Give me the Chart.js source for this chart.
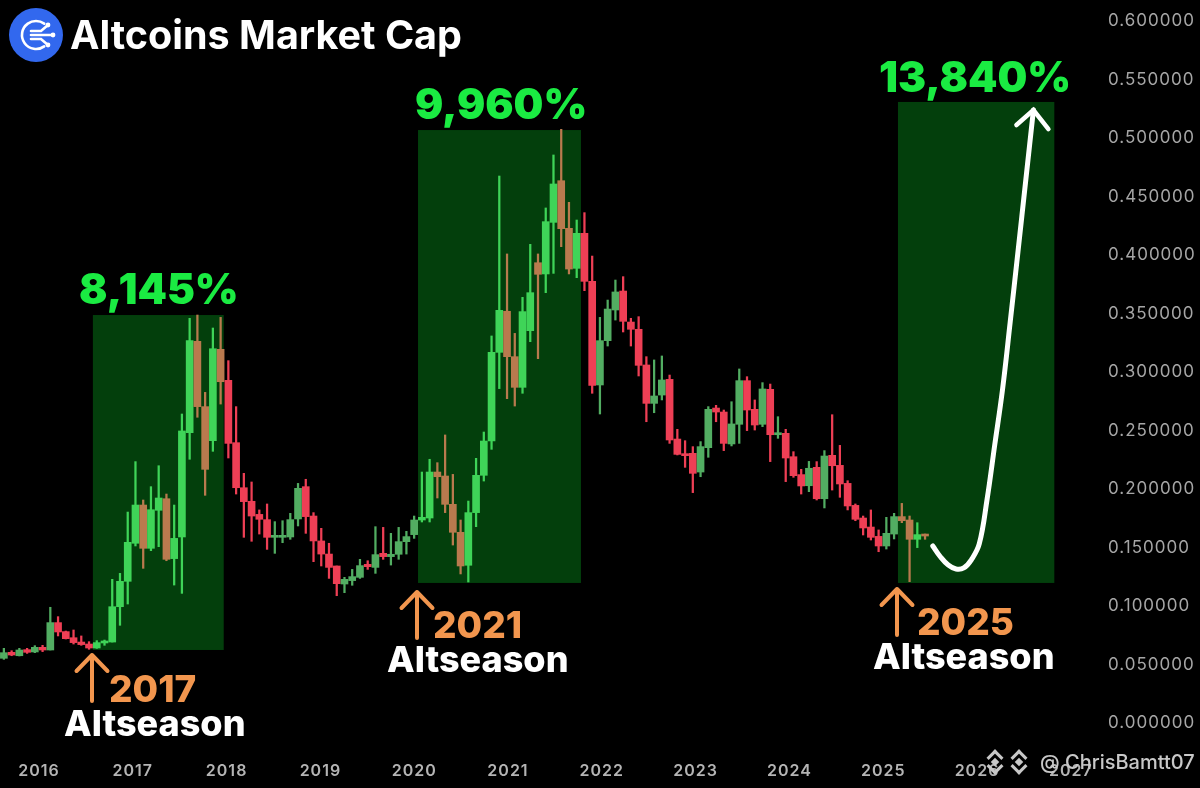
<!DOCTYPE html>
<html>
<head>
<meta charset="utf-8">
<title>Altcoins Market Cap</title>
<script src="https://cdn.jsdelivr.net/npm/chart.js@4/dist/chart.umd.min.js"></script>
<style>
  html, body { margin: 0; padding: 0; background: #000; }
  canvas { display: block; }
</style>
</head>
<body>
<canvas id="altcoinChart" width="1200" height="788"></canvas>
<script>
// monthly candles, first one is Sep 2015
const opens = [
  .0553,.0604,.0575,.0627,.0607,.0647,.0624,.0858,.0781,.0729,.0692,.0675,
  .0641,.0684,.0692,.0994,.1211,.1536,.1863,.1493,.1818,.1917,.1405,.1590,
  .2481,.3262,.2704,.2413,.3194,.2929,.2396,.2011,.1895,.1783,.1738,.1587,
  .1587,.1590,.1744,.2020,.1769,.1556,.1444,.1342,.1188,.1217,.1245,.1356,
  .1330,.1450,.1422,.1442,.1550,.1610,.1735,.1752,.2145,.2111,.1869,.1630,
  .1348,.1798,.2117,.2410,.3168,.3519,.3131,.2869,.3353,.3934,.3838,.4279,
  .4635,.4228,.3886,.4185,.3775,.2889,.3268,.3530,.3692,.3427,.3365,.3060,
  .2732,.2803,.2937,.2427,.2299,.2305,.2145,.2353,.2692,.2658,.2385,.2553,
  .2926,.2681,.2553,.2852,.2464,.2476,.2276,.2123,.2028,.2185,.1917,.2288,
  .2202,.2048,.1860,.1752,.1675,.1595,.1513,.1615,.1764,.1735,.1570,.1613
];
const highs = [
  .0638,.0618,.0638,.0638,.0661,.0664,.0989,.0909,.0786,.0795,.0744,.0695,
  .0704,.0709,.1228,.1279,.1803,.2234,.1906,.2020,.2199,.1957,.1863,.2641,
  .3459,.3487,.2826,.3376,.3467,.3097,.2704,.2134,.2060,.1821,.1872,.1721,
  .1729,.1792,.2048,.2083,.1798,.1664,.1536,.1342,.1245,.1313,.1399,.1387,
  .1678,.1672,.1621,.1672,.1638,.1769,.2145,.2254,.2225,.2462,.2125,.1735,
  .1897,.2262,.2487,.3308,.4675,.4009,.3330,.3638,.4091,.4009,.4402,.4855,
  .5074,.4450,.4299,.4362,.3991,.3467,.3615,.3786,.3815,.3459,.3473,.3131,
  .3103,.3137,.2974,.2510,.2413,.2362,.2405,.2704,.2715,.2675,.2746,.3026,
  .2960,.2761,.2909,.2897,.2618,.2510,.2319,.2168,.2236,.2234,.2328,.2635,
  .2373,.2071,.1872,.1769,.1821,.1650,.1758,.1792,.1877,.1769,.1712,.1615
];
const lows = [
  .0544,.0575,.0573,.0595,.0601,.0610,.0624,.0744,.0718,.0675,.0664,.0630,
  .0638,.0664,.0692,.0835,.1017,.1513,.1322,.1473,.1507,.1387,.1179,.1108,
  .2254,.2613,.1946,.2322,.2726,.2265,.1957,.1587,.1553,.1615,.1484,.1450,
  .1541,.1570,.1684,.1621,.1379,.1342,.1236,.1088,.1114,.1177,.1236,.1313,
  .1279,.1399,.1350,.1399,.1444,.1578,.1718,.1718,.1923,.1798,.1521,.1274,
  .1205,.1678,.2068,.2339,.2858,.2772,.2709,.2818,.3259,.3114,.3678,.3843,
  .4071,.3838,.3806,.3695,.2818,.2641,.3222,.3444,.3342,.3222,.2966,.2575,
  .2652,.2761,.2390,.2291,.2185,.1969,.2105,.2271,.2575,.2328,.2368,.2390,
  .2499,.2504,.2533,.2234,.2433,.2063,.2100,.1957,.1977,.1906,.1838,.1991,
  .1929,.1821,.1729,.1607,.1564,.1464,.1487,.1573,.1712,.1208,.1499,.1570
];
const closes = [
  .0601,.0581,.0624,.0604,.0647,.0624,.0858,.0778,.0721,.0687,.0670,.0641,
  .0687,.0698,.0994,.1211,.1544,.1863,.1493,.1823,.1923,.1399,.1578,.2496,
  .3268,.2704,.2168,.3199,.2917,.2390,.2011,.1892,.1769,.1741,.1587,.1598,
  .1604,.1738,.2006,.1764,.1556,.1444,.1330,.1191,.1228,.1251,.1345,.1336,
  .1439,.1422,.1442,.1550,.1593,.1735,.1758,.2145,.2105,.1869,.1630,.1342,
  .1798,.2117,.2410,.3168,.3527,.3131,.2869,.3516,.3678,.3835,.4285,.4607,
  .4225,.3880,.4185,.3775,.2886,.3268,.3538,.3684,.3433,.3365,.3057,.2732,
  .2795,.2932,.2419,.2296,.2285,.2134,.2362,.2681,.2658,.2390,.2556,.2926,
  .2675,.2547,.2855,.2464,.2481,.2265,.2114,.2026,.2177,.1917,.2282,.2199,
  .2043,.1855,.1741,.1667,.1587,.1513,.1621,.1764,.1729,.1570,.1610,.1598
];

// hand drawn forecast curve, one value per month after the last candle
const forecast = [.1513,.1419,.1350,.1316,.1325,.1397,.1530,.1906,.2376,.2846,.3427,.4026,.4632,.5239];

const yearTicks = [2016,2017,2018,2019,2020,2021,2022,2023,2024,2025,2026,2027];
const priceTicks = [0,.05,.1,.15,.2,.25,.3,.35,.4,.45,.5,.55,.6];

// altseason boxes: first/last month index and price range
const zoneStart = [11.5, 53.5, 115.5];
const zoneEnd = [28.4, 74.55, 135.7];
const zoneLow = [.0624, .1197, .1197];
const zoneHigh = [.3487, .5068, .5308];

const months = [];
for (let i = 0; i < 139; i++) {
  const m = 8 + i;
  months.push((2015 + Math.floor(m / 12)) + "-" + String(m % 12 + 1).padStart(2, "0"));
}

const inZone = (i) => zoneStart.some((s, z) => i > s && i < zoneEnd[z]);
const candleColor = (i) => {
  const up = closes[i] >= opens[i];
  if (inZone(i)) return up ? "#3fd458" : "#b97a4e";
  return up ? "#52ad62" : "#ee3f55";
};
const bodyColors = opens.map((o, i) => candleColor(i));

// zones go behind the candles
const zonePlugin = {
  id: "zones",
  beforeDraw(chart) {
    // the tick labels in the reference are spaced out a bit
    chart.ctx.letterSpacing = "1px";
  },
  beforeDatasetsDraw(chart) {
    const { ctx, scales } = chart;
    ctx.save();
    ctx.fillStyle = "#033f0c";
    zoneStart.forEach((s, z) => {
      const x1 = scales.x.getPixelForValue(s);
      const x2 = scales.x.getPixelForValue(zoneEnd[z]);
      const y1 = scales.y.getPixelForValue(zoneHigh[z]);
      const y2 = scales.y.getPixelForValue(zoneLow[z]);
      ctx.fillRect(x1, y1, x2 - x1, y2 - y1);
    });
    ctx.restore();
  },
};

function drawText(ctx, text, x, y, font, color, spacing) {
  ctx.font = font;
  ctx.fillStyle = color;
  ctx.letterSpacing = spacing || "0px";
  ctx.fillText(text, x, y);
}

function drawUpArrow(ctx, x, top, bottom) {
  ctx.strokeStyle = "#f2964e";
  ctx.lineWidth = 4;
  ctx.lineCap = "round";
  ctx.lineJoin = "round";
  ctx.beginPath();
  ctx.moveTo(x, bottom);
  ctx.lineTo(x, top);
  ctx.moveTo(x - 15.5, top + 16);
  ctx.lineTo(x, top);
  ctx.lineTo(x + 15.5, top + 16);
  ctx.stroke();
}

function drawLogo(ctx) {
  ctx.fillStyle = "#3268ee";
  ctx.beginPath();
  ctx.arc(36, 35, 27, 0, Math.PI * 2);
  ctx.fill();
  ctx.strokeStyle = "#ffffff";
  ctx.fillStyle = "#ffffff";
  ctx.lineWidth = 2.6;
  ctx.lineCap = "round";
  ctx.beginPath();
  ctx.arc(36, 35, 14, Math.PI * 0.3, Math.PI * 1.7);
  ctx.stroke();
  [[48, 25], [53, 35], [48, 45]].forEach(([dx, dy]) => {
    ctx.beginPath();
    ctx.moveTo(31, 35 + (dy - 35) * 0.4);
    ctx.lineTo(41, 35 + (dy - 35) * 0.4);
    ctx.lineTo(dx, dy);
    ctx.stroke();
    ctx.beginPath();
    ctx.arc(dx, dy, 2.4, 0, Math.PI * 2);
    ctx.fill();
  });
}

function drawWatermark(ctx) {
  ctx.fillStyle = "#c8c8c8";
  [[995, 762], [1019, 762]].forEach(([cx, cy]) => {
    ctx.save();
    ctx.translate(cx, cy);
    ctx.rotate(Math.PI / 4);
    ctx.fillRect(-3, -3, 6, 6);
    ctx.fillRect(-9, -9, 12, 3);
    ctx.fillRect(-9, -9, 3, 12);
    ctx.fillRect(-3, 6, 12, 3);
    ctx.fillRect(6, -3, 3, 12);
    ctx.restore();
  });
  drawText(ctx, "@ ChrisBamtt07", 1040, 769, "500 20px Inter", "#c8c8c8");
}

const annotationPlugin = {
  id: "annotations",
  afterDraw(chart) {
    const { ctx, scales } = chart;
    const green = "#1aeb42";
    ctx.save();
    ctx.textBaseline = "alphabetic";
    ctx.textAlign = "left";

    drawLogo(ctx);
    drawText(ctx, "Altcoins Market Cap", 70, 49, "700 39.5px Inter", "#ffffff");

    drawText(ctx, "8,145%", 79, 304, "900 42px Inter", green);
    drawText(ctx, "9,960%", 415, 119, "900 42px Inter", green);
    drawText(ctx, "13,840%", 879, 92, "900 42px Inter", green);

    drawUpArrow(ctx, 92, 655, 701);
    drawUpArrow(ctx, 417, 592, 638);
    drawUpArrow(ctx, 897, 589, 635);

    drawText(ctx, "2017", 109, 702, "800 37px Inter", "#f2964e");
    drawText(ctx, "2021", 433, 638, "800 37px Inter", "#f2964e");
    drawText(ctx, "2025", 917, 635, "800 37px Inter", "#f2964e");

    drawText(ctx, "Altseason", 64, 736, "800 36px Inter", "#ffffff");
    drawText(ctx, "Altseason", 387, 672, "800 36px Inter", "#ffffff");
    drawText(ctx, "Altseason", 873, 669, "800 36px Inter", "#ffffff");

    // arrow head on the end of the forecast curve
    const tipX = scales.x.getPixelForValue(opens.length + forecast.length - 1);
    const tipY = scales.y.getPixelForValue(forecast[forecast.length - 1]);
    ctx.strokeStyle = "#ffffff";
    ctx.lineWidth = 4.5;
    ctx.lineCap = "round";
    ctx.lineJoin = "miter";
    ctx.beginPath();
    ctx.moveTo(tipX - 17, tipY + 15);
    ctx.lineTo(tipX, tipY);
    ctx.lineTo(tipX + 15, tipY + 19);
    ctx.stroke();

    drawWatermark(ctx);
    ctx.restore();
  },
};

new Chart(document.getElementById("altcoinChart"), {
  data: {
    labels: months,
    datasets: [
      {
        type: "line",
        data: opens.map(() => null).concat(forecast),
        borderColor: "#ffffff",
        borderWidth: 5,
        borderCapStyle: "round",
        pointRadius: 0,
        tension: 0.4,
        order: 0,
      },
      {
        type: "bar",
        data: opens.map((o, i) => [o, closes[i]]),
        backgroundColor: bodyColors,
        barThickness: 7,
        minBarLength: 2,
        grouped: false,
        order: 1,
      },
      {
        type: "bar",
        data: opens.map((o, i) => [lows[i], highs[i]]),
        backgroundColor: bodyColors,
        barThickness: 1.6,
        grouped: false,
        order: 2,
      },
    ],
  },
  options: {
    responsive: false,
    animation: false,
    layout: { padding: 0 },
    plugins: {
      legend: { display: false },
      tooltip: { enabled: false },
    },
    scales: {
      x: { display: false, offset: true, grid: { display: false } },
      // year labels are not evenly on the candles, so they get their own axis
      years: {
        type: "linear",
        axis: "x",
        position: "bottom",
        min: 2015.5842,
        max: 2027.0554,
        grid: { display: false, drawTicks: false },
        border: { display: false },
        afterBuildTicks: (scale) => { scale.ticks = yearTicks.map((v) => ({ value: v })); },
        afterFit: (scale) => {
          scale.height = 33;
          scale.paddingLeft = 0;
          scale.paddingRight = 0;
        },
        ticks: {
          autoSkip: false,
          maxRotation: 0,
          padding: 7,
          color: "#b4b4b4",
          font: { family: "Inter", size: 16, weight: "600" },
          callback: (v) => String(v),
        },
      },
      y: {
        position: "right",
        min: -0.02735,
        max: 0.61795,
        grid: { display: false, drawTicks: false },
        border: { display: false },
        afterBuildTicks: (scale) => { scale.ticks = priceTicks.map((v) => ({ value: v })); },
        afterFit: (scale) => {
          scale.width = 124;
          scale.paddingTop = 0;
          scale.paddingBottom = 0;
        },
        ticks: {
          autoSkip: false,
          padding: 32,
          color: "#a6a6a6",
          font: { family: "Inter", size: 17 },
          callback: (v) => v.toFixed(6),
        },
      },
    },
  },
  plugins: [zonePlugin, annotationPlugin],
});
</script>
</body>
</html>
